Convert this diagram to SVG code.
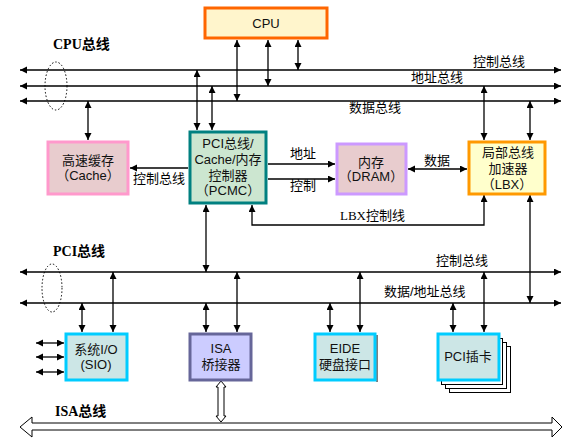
<svg xmlns="http://www.w3.org/2000/svg" width="576" height="447" viewBox="0 0 576 447">
<style>
.ln{stroke:#000;stroke-width:1.3;fill:none}
.da{marker-start:url(#ah);marker-end:url(#ah)}
.ea{marker-end:url(#ah)}
.box{stroke-width:3}
.t{font-family:"Liberation Sans","Noto Sans CJK SC",sans-serif;font-size:13px;fill:#111;text-anchor:middle}
.lb{font-family:"Liberation Sans","Noto Sans CJK SC",sans-serif;font-size:13px;fill:#000}
.bus{font-family:"Liberation Serif","Noto Sans CJK SC",serif;font-size:14px;font-weight:bold;fill:#000}
.ell{fill:none;stroke:#000;stroke-width:1;stroke-dasharray:1.5,2}
</style>
<defs>
<marker id="ah" markerUnits="userSpaceOnUse" markerWidth="8" markerHeight="8" refX="7" refY="3.5" orient="auto-start-reverse">
<path d="M0,0 L7,3.5 L0,7 z" fill="#000"/>
</marker>
</defs>
<rect width="576" height="447" fill="#fff"/>

<g id="connectors">
<!-- CPU bus -->
<line class="ln da" x1="20" y1="70" x2="561" y2="70"/>
<line class="ln da" x1="20" y1="86" x2="561" y2="86"/>
<line class="ln da" x1="20" y1="101" x2="561" y2="101"/>
<ellipse class="ell" cx="56" cy="86" rx="11" ry="24"/>
<line class="ln da" x1="237" y1="40" x2="237" y2="101"/>
<line class="ln da" x1="268" y1="40" x2="268" y2="86"/>
<line class="ln da" x1="298" y1="40" x2="298" y2="70"/>
<line class="ln da" x1="88" y1="101" x2="88" y2="140"/>
<line class="ln da" x1="197" y1="70" x2="197" y2="130"/>
<line class="ln da" x1="212" y1="86" x2="212" y2="130"/>
<line class="ln da" x1="484" y1="86" x2="484" y2="140"/>
<line class="ln da" x1="530" y1="101" x2="530" y2="140"/>
<!-- middle -->
<line class="ln ea" x1="188" y1="168" x2="130" y2="168"/>
<line class="ln ea" x1="268" y1="164" x2="335" y2="164"/>
<line class="ln ea" x1="268" y1="179" x2="335" y2="179"/>
<line class="ln da" x1="408" y1="169" x2="467" y2="169"/>
<polyline class="ln da" points="252,205 252,225 484,225 484,195"/>
<line class="ln da" x1="206" y1="205" x2="206" y2="272"/>
<line class="ln da" x1="530" y1="195" x2="530" y2="303"/>
<!-- PCI bus -->
<line class="ln da" x1="20" y1="272" x2="561" y2="272"/>
<line class="ln da" x1="20" y1="303" x2="561" y2="303"/>
<ellipse class="ell" cx="52" cy="288" rx="10" ry="24"/>
<line class="ln da" x1="82" y1="303" x2="82" y2="332"/>
<line class="ln da" x1="113" y1="272" x2="113" y2="332"/>
<line class="ln da" x1="206" y1="303" x2="206" y2="332"/>
<line class="ln da" x1="237" y1="272" x2="237" y2="332"/>
<line class="ln da" x1="330" y1="303" x2="330" y2="332"/>
<line class="ln da" x1="360" y1="272" x2="360" y2="332"/>
<line class="ln da" x1="453" y1="303" x2="453" y2="332"/>
<line class="ln da" x1="484" y1="272" x2="484" y2="332"/>
<!-- SIO side -->
<line class="ln da" x1="36" y1="343" x2="64" y2="343"/>
<line class="ln da" x1="36" y1="357" x2="64" y2="357"/>
<line class="ln da" x1="36" y1="372" x2="64" y2="372"/>
<!-- ISA -->
<polygon points="221,381 226,387 224,387 224,416 226,416 221,422 216,416 218,416 218,387 216,387" fill="#fff" stroke="#000" stroke-width="1"/>
<polygon points="20,427 32,417 32,423 552,423 552,417 562,427 552,437 552,430 32,430 32,437" fill="#fff" stroke="#000" stroke-width="1"/>
</g>

<g id="cpu">
<rect class="box" x="205" y="8" width="122" height="30" fill="#FFF5CC" stroke="#FF6600" stroke-width="3.5"/>
<text class="t" x="266" y="28" fill="#222">CPU</text>
</g>
<g id="cache">
<rect class="box" x="48" y="142" width="80" height="52" fill="#E8CCCE" stroke="#FF99CC"/>
<text class="t" x="88" y="165">高速缓存</text>
<text class="t" x="88" y="180">（Cache）</text>
</g>
<g id="pcmc">
<rect class="box" x="190" y="132" width="76" height="71" fill="#CCE6D0" stroke="#008080"/>
<text class="t" x="228" y="148">PCI总线/</text>
<text class="t" x="228" y="164">Cache/内存</text>
<text class="t" x="228" y="180">控制器</text>
<text class="t" x="228" y="195">（PCMC）</text>
</g>
<g id="dram">
<rect class="box" x="337" y="144" width="69" height="50" fill="#E8CCCE" stroke="#CC99FF"/>
<text class="t" x="371" y="167">内存</text>
<text class="t" x="371" y="181">（DRAM）</text>
</g>
<g id="lbx">
<rect class="box" x="469" y="142" width="76" height="52" fill="#FFFFCC" stroke="#FF9900"/>
<text class="t" x="508" y="157">局部总线</text>
<text class="t" x="508" y="173">加速器</text>
<text class="t" x="507" y="189">（LBX）</text>
</g>
<g id="sio">
<rect class="box" x="66" y="334" width="61" height="46" fill="#CCE6E6" stroke="#00CCFF"/>
<text class="t" x="96" y="354">系统I/O</text>
<text class="t" x="96" y="369">(SIO)</text>
</g>
<g id="isa-bridge">
<rect class="box" x="190" y="334" width="61" height="46" fill="#CCCCFF" stroke="#666699"/>
<text class="t" x="221" y="353">ISA</text>
<text class="t" x="221" y="369">桥接器</text>
</g>
<g id="eide">
<line x1="377" y1="335" x2="377" y2="382" stroke="#000" stroke-width="1"/>
<rect class="box" x="315" y="334" width="60" height="46" fill="#CCE6E6" stroke="#00CCFF"/>
<text class="t" x="345" y="353">EIDE</text>
<text class="t" x="345" y="369">硬盘接口</text>
</g>
<g id="pci-cards">
<rect x="449.5" y="346.5" width="61" height="46" fill="#fff" stroke="#000" stroke-width="1"/>
<rect x="445.5" y="342.5" width="61" height="46" fill="#fff" stroke="#000" stroke-width="1"/>
<rect x="441.5" y="338.5" width="61" height="46" fill="#fff" stroke="#000" stroke-width="1"/>
<rect class="box" x="438" y="334" width="61" height="46" fill="#CCE6E6" stroke="#00CCFF"/>
<text class="t" x="468" y="361">PCI插卡</text>
</g>

<g id="labels">
<text class="bus" x="53" y="49">CPU总线</text>
<text class="bus" x="53" y="256">PCI总线</text>
<text class="bus" x="55" y="416">ISA总线</text>
<text class="lb" x="473" y="66">控制总线</text>
<text class="lb" x="411" y="82">地址总线</text>
<text class="lb" x="349" y="112">数据总线</text>
<text class="lb" x="133" y="183">控制总线</text>
<text class="lb" x="290" y="158">地址</text>
<text class="lb" x="290" y="190">控制</text>
<text class="lb" x="424" y="165">数据</text>
<text class="lb" x="340" y="220"><tspan font-family="Liberation Serif">LBX</tspan>控制线</text>
<text class="lb" x="436" y="265">控制总线</text>
<text class="lb" x="384" y="296">数据/地址总线</text>
</g>
</svg>
